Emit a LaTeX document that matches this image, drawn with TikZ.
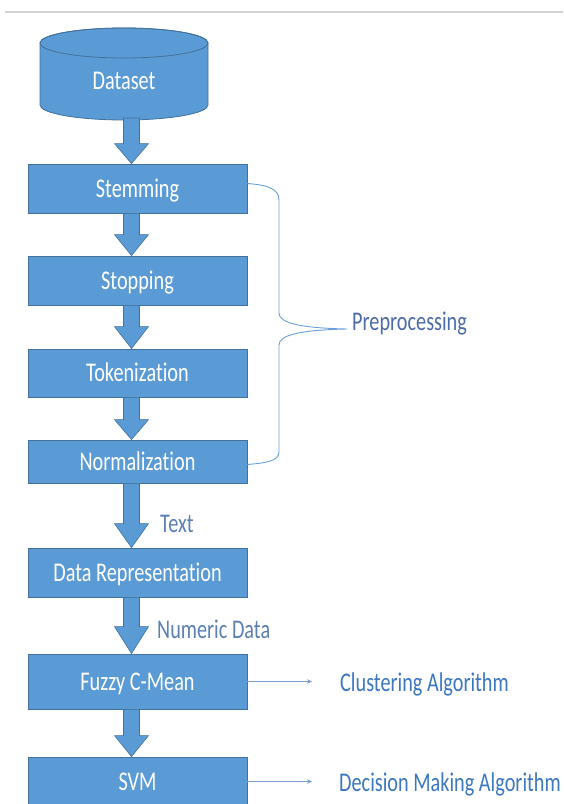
\documentclass[tikz,border=0pt]{standalone}
\usepackage{fontspec}
\newfontfamily\cbfont[FakeStretch=0.75,Ligatures={NoCommon}]{Carlito}
\usetikzlibrary{calc,arrows.meta}
\definecolor{boxfill}{HTML}{5B9BD5}
\definecolor{boxline}{HTML}{41719C}
\definecolor{bracecol}{HTML}{6A9FD8}
\definecolor{precol}{HTML}{4D6BA8}
\definecolor{algcol}{HTML}{3B78BF}
\definecolor{lblcol}{HTML}{5B7FB1}
\definecolor{smallarr}{HTML}{7A9CCB}
\definecolor{topline}{HTML}{D3D3D3}
\newcommand{\barrow}[3]{%
  \draw[arrstyle] ($(ax |- #1)+(-8,0)$) -- ($(ax |- #2)+(-8,-#3)$) -- ($(ax |- #2)+(-17,-#3)$)
    -- (ax |- #2) -- ($(ax |- #2)+(17,-#3)$) -- ($(ax |- #2)+(8,-#3)$) -- ($(ax |- #1)+(8,0)$) -- cycle;}
\begin{document}
\begin{tikzpicture}[x=1pt,y=-1pt,
  txt/.style={font=\cbfont\fontsize{27}{30}\selectfont, text height=17.5pt, text depth=0pt, inner sep=0pt},
  stepbox/.style={txt, draw=boxline, fill=boxfill, line width=0.8pt, text=white, minimum width=219pt, minimum height=48pt},
  arrstyle/.style={draw=boxline, fill=boxfill, line width=0.6pt, line join=miter},
  lbl/.style={txt, anchor=west},
  thinarr/.style={draw=smallarr, line width=0.9pt, -{Stealth[length=5pt,width=4.5pt]}}]
\useasboundingbox (0,0) rectangle (563,804);
\clip (0,0) rectangle (563,804);
% top rule
\draw[topline, line width=1.5pt] (5,12) -- (563,12);
% cylinder
\draw[arrstyle, line width=0.8pt] (40,43) -- (40,105) arc[start angle=180, end angle=0, x radius=84, y radius=15]
  -- (208,43) arc[start angle=0, end angle=-180, x radius=84, y radius=15] -- cycle;
\draw[boxline, line width=0.8pt] (124,43) ellipse[x radius=84, y radius=15];
\node[txt, text=white] (ds) at (124,80.5) {Dataset};
\coordinate (dsb) at (131.5,118);
\coordinate (ax) at (131.5,0);
% boxes
\node[stepbox, minimum height=49pt] (stem) at (137.5,188.5) {Stemming};
\node[stepbox, minimum height=49pt] (stop) at (137.5,280.5) {Stopping};
\node[stepbox] (tok) at (137.5,373) {Tokenization};
\node[stepbox, minimum height=43pt] (norm) at (137.5,461.5) {Normalization};
\node[stepbox, minimum height=49pt] (drep) at (137.5,572.5) {Data Representation};
\node[stepbox, minimum height=55pt] (fcm) at (137.5,681.5) {Fuzzy C-Mean};
\node[stepbox, minimum height=50pt] (svm) at (137.5,782) {SVM};
% block arrows
\barrow{dsb}{stem.north}{20}
\barrow{stem.south}{stop.north}{21}
\barrow{stop.south}{tok.north}{22}
\barrow{tok.south}{norm.north}{20}
\barrow{norm.south}{drep.north}{24}
\barrow{drep.south}{fcm.north}{27}
\barrow{fcm.south}{svm.north}{21}
% labels on arrows
\node[lbl, text=lblcol] (ltext) at (160,524) {Text};
\node[lbl, text=lblcol] (lnum) at (157,630) {Numeric Data};
% brace
\coordinate (bt) at ([yshift=5pt]stem.east);
\coordinate (bb) at ([yshift=-3pt]norm.east);
\coordinate (tip) at (347,329);
\draw[bracecol, line width=0.9pt] (bt) .. controls (268,185) and (279,189) .. (279,200) -- (279,313)
  .. controls (279,323) and (300,328) .. (tip)
  .. controls (300,330) and (279,335) .. (279,345) -- (279,452)
  .. controls (279,461) and (266,463) .. (bb);
\node[lbl, text=precol] (pre) at (352,322) {Preprocessing};
% algorithm labels
\node[lbl, text=algcol] (clu) at (340,683) {Clustering Algorithm};
\node[lbl, text=algcol] (dec) at (339,782.5) {Decision Making Algorithm};
\draw[thinarr, shorten >=28pt] (fcm.east) -- (fcm.east -| clu.west);
\draw[thinarr, shorten >=27pt] ([yshift=0.5pt]svm.east) -- ([yshift=0.5pt]svm.east -| dec.west);
\end{tikzpicture}
\end{document}
